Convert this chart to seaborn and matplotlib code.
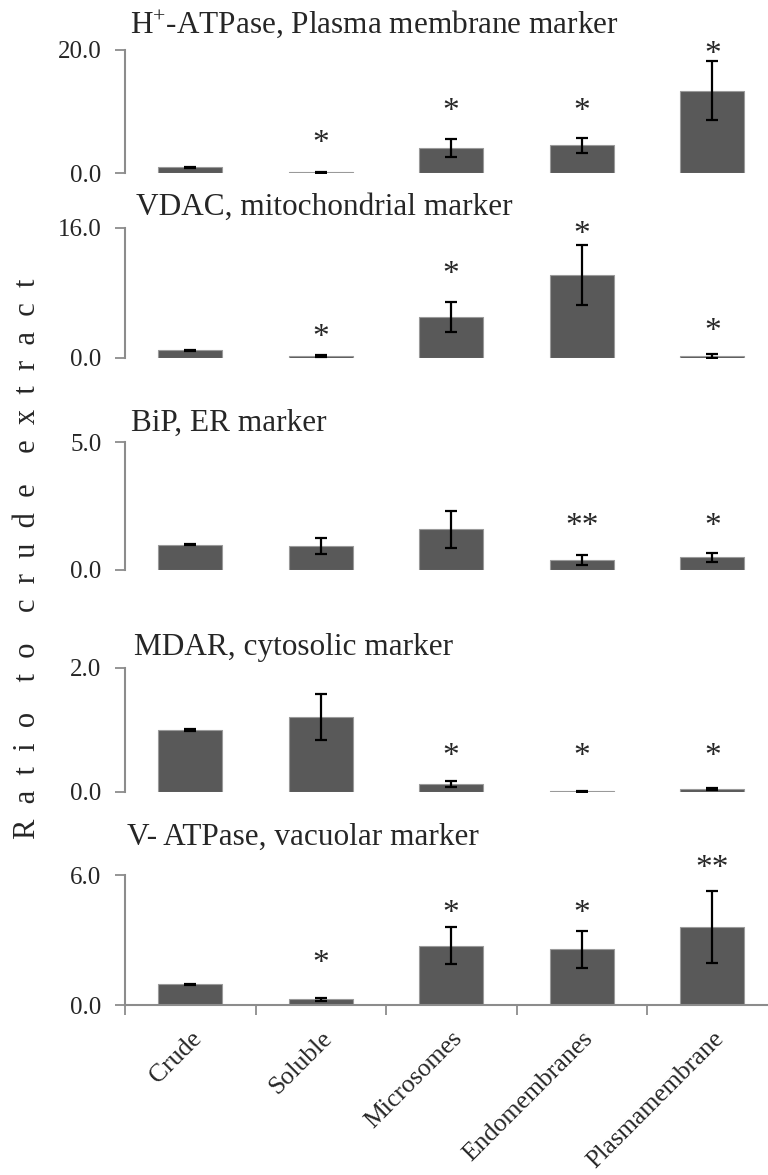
import numpy as np
import pandas as pd
import matplotlib
matplotlib.use('Agg')
import matplotlib.pyplot as plt
import seaborn as sns

sns.set_style('white')
plt.rcParams['font.family'] = ['Liberation Serif', 'DejaVu Serif']
plt.rcParams['mathtext.default'] = 'regular'

W, H = 768, 1175

categories = ['Crude', 'Soluble', 'Microsomes', 'Endomembranes', 'Plasmamembrane']

# --- values (ratio to crude extract, mean +/- error) ---
h_atpase_mean = [0.97, 0.12, 4.05, 4.49, 13.4]
h_atpase_err = [0.08, 0.06, 1.45, 1.20, 4.8]
h_atpase_sig = ['', '*', '*', '*', '*']
h_atpase_star_y = [0, 5.9, 11.1, 11.1, 20.4]

vdac_mean = [0.98, 0.22, 5.05, 10.2, 0.25]
vdac_err = [0.06, 0.15, 1.9, 3.7, 0.2]
vdac_sig = ['', '*', '*', '*', '*']
vdac_star_y = [0, 3.3, 11.1, 16.0, 4.1]

bip_mean = [0.99, 0.94, 1.59, 0.39, 0.50]
bip_err = [0.02, 0.31, 0.72, 0.20, 0.17]
bip_sig = ['', '', '', '**', '*']
bip_star_y = [0, 0, 0, 1.98, 1.98]

mdar_mean = [1.0, 1.21, 0.13, 0.01, 0.05]
mdar_err = [0.01, 0.37, 0.05, 0.01, 0.02]
mdar_sig = ['', '', '*', '*', '*']
mdar_star_y = [0, 0, 0.68, 0.68, 0.68]

vatp_mean = [0.95, 0.27, 2.74, 2.57, 3.61]
vatp_err = [0.03, 0.07, 0.84, 0.84, 1.66]
vatp_sig = ['', '*', '*', '*', '**']
vatp_star_y = [0, 2.23, 4.54, 4.52, 6.6]

titles = ['H$^{+}$-ATPase, Plasma membrane marker',
          'VDAC, mitochondrial marker',
          'BiP, ER marker',
          'MDAR, cytosolic marker',
          'V- ATPase, vacuolar marker']
y_tops = [20.0, 16.0, 5.0, 2.0, 6.0]

panels = [
    (h_atpase_mean, h_atpase_err, h_atpase_sig, h_atpase_star_y),
    (vdac_mean, vdac_err, vdac_sig, vdac_star_y),
    (bip_mean, bip_err, bip_sig, bip_star_y),
    (mdar_mean, mdar_err, mdar_sig, mdar_star_y),
    (vatp_mean, vatp_err, vatp_sig, vatp_star_y),
]

# layout in pixels (top, bottom of each axes; title start / centre)
ax_px = [(50, 173), (228, 358), (442, 570), (668, 792), (875, 1005)]
title_px = [(130, 24), (136, 207), (131, 423), (134, 647), (127, 837)]
left_px = 125
cat_px = 130.5

BAR = '#595959'
SPINE = '#8c8c8c'

fig = plt.figure(figsize=(W / 100, H / 100), dpi=100)

for i, ((mean, err, sig, star_y), title, ytop) in enumerate(zip(panels, titles, y_tops)):
    top, bot = ax_px[i]
    ax = fig.add_axes([left_px / W, 1 - bot / H, (W - left_px) / W, (bot - top) / H])
    df = pd.DataFrame({'fraction': categories, 'ratio': mean})
    sns.barplot(data=df, x='fraction', y='ratio', order=categories, color=BAR,
                saturation=1, width=0.49, errorbar=None, ax=ax,
                edgecolor='#9a9a9a', linewidth=0.8)
    ax.errorbar(np.arange(len(categories)), mean, yerr=err, fmt='none',
                ecolor='black', elinewidth=1.6, capsize=4.5, capthick=1.6, zorder=5)
    for x, s, sy in zip(range(len(categories)), sig, star_y):
        if s:
            ax.annotate(s, (x, sy), xytext=(0, -5), textcoords='offset points',
                        ha='center', va='center', fontsize=24, annotation_clip=False)

    ax.set_xlim(-0.5, (W - left_px) / cat_px - 0.5)
    ax.set_ylim(0, ytop)
    ax.set_yticks([0, ytop])
    ax.set_yticklabels([f'{v:.1f}' for v in [0, ytop]], fontsize=18)
    ax.tick_params(axis='y', direction='out', length=7, width=1.3, color=SPINE, pad=10, left=True)
    ax.set_xlabel('')
    ax.set_ylabel('')
    for side in ['top', 'right']:
        ax.spines[side].set_visible(False)
    ax.spines['left'].set_color(SPINE)
    ax.spines['left'].set_linewidth(1.5)
    if i < 4:
        ax.spines['bottom'].set_visible(False)
        ax.set_xticks([])
    else:
        ax.spines['bottom'].set_color(SPINE)
        ax.spines['bottom'].set_linewidth(1.5)
        ax.set_xticks(range(len(categories)))
        ax.set_xticklabels(categories, rotation=45, ha='right', rotation_mode='anchor', fontsize=18.5)
        ax.set_xticks(np.arange(-0.5, 4.5, 1.0), minor=True)
        ax.tick_params(axis='x', which='major', length=0, pad=16)
        ax.tick_params(axis='x', which='minor', direction='out', length=7, width=1.3,
                       color=SPINE, bottom=True)

    tx, ty = title_px[i]
    fig.text(tx / W, 1 - ty / H, title, ha='left', va='center', fontsize=22.5)

fig.text(28 / W, 1 - 559 / H,
         'R  a  t  i  o    t  o    c  r  u  d  e    e  x  t  r  a  c  t',
         rotation=90, ha='center', va='center', fontsize=22)

fig.savefig('out.png', dpi=100)
